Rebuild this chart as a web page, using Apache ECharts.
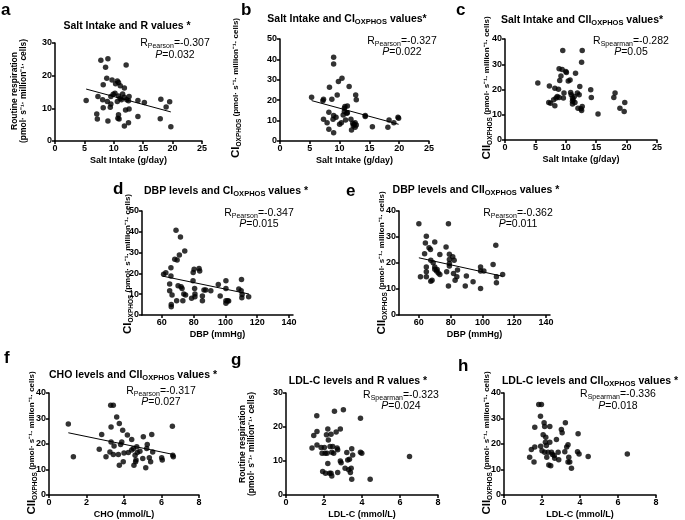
<!DOCTYPE html>
<html><head><meta charset="utf-8">
<script src="https://cdn.jsdelivr.net/npm/echarts@6/dist/echarts.min.js"></script>
<style>html,body{margin:0;padding:0;background:#fff}#c{width:685px;height:520px}</style>
</head><body><div id="c"></div>
<script>
// ---- data ----
// a: Salt intake vs routine respiration
const aSalt = [5.3,7.8,9.0,8.6,8.8,8.2,7.3,7.1,7.2,8.1,8.2,8.9,9.0,9.4,9.7,9.5,9.5,9.9,10.2,10.3,10.6,10.8,10.8,10.6,10.7,10.8,10.9,11.1,11.1,11.3,11.5,11.8,11.8,11.8,12.1,12.0,12.2,12.5,12.6,12.6,12.5,14.1,14.1,15.2,18.0,17.9,18.9,19.5,19.7];
const aR    = [12.4,24.7,25.2,22.6,19.2,17.2,13.6,8.3,6.7,12.6,10.2,12.1,6.1,10.3,18.7,13.6,11.3,14.3,14.6,17.5,18.4,17.9,13.8,12.1,7.0,8.0,6.7,16.9,13.0,12.6,14.4,16.2,4.6,13.4,23.3,9.5,12.6,5.6,9.8,13.6,12.3,12.4,7.5,11.8,12.8,6.8,10.4,12.0,4.4];
const aFitX = [5.3,19.7], aFitY = [15.9,8.9];
// b: Salt intake vs CI OXPHOS
const bSalt = [5.3,7.2,7.3,7.3,7.9,8.3,8.2,8.2,8.7,8.9,9.0,9.0,9.0,9.0,9.4,9.6,9.8,10.0,10.3,10.4,10.6,10.8,10.8,10.9,11.0,11.2,11.3,11.3,11.6,11.9,12.0,12.2,12.3,12.4,12.6,12.7,12.8,12.8,12.6,14.3,14.3,15.5,18.1,18.3,19.1,19.8,19.9];
const bCI   = [21.5,19.7,20.5,10.7,9.0,26.4,14.1,5.7,20.5,10.7,12.5,41.1,37.7,4.1,11.6,22.6,29.2,8.2,9.0,30.8,12.8,16.1,14.4,16.9,10.3,13.6,13.9,17.2,26.7,10.7,5.4,8.7,7.5,8.2,6.7,22.6,20.2,7.9,9.0,12.5,12.0,7.0,6.7,10.3,9.0,11.6,11.1];
const bFitX = [5.3,19.9], bFitY = [19.8,8.2];
// c: Salt intake vs CII OXPHOS
const cSalt = [5.4,7.2,7.3,7.5,8.0,8.2,8.4,8.2,8.6,8.8,8.9,9.0,8.9,9.2,9.4,9.5,9.6,9.7,10.0,10.1,10.4,10.7,10.8,10.9,11.1,11.1,11.1,11.2,11.4,11.5,11.6,11.9,12.0,12.2,12.3,12.5,12.6,12.6,12.7,12.7,14.1,14.2,15.3,18.1,17.9,18.9,19.6,19.7];
const cCII  = [22.6,14.9,21.4,14.6,15.9,20.5,16.6,13.6,17.2,20.1,16.8,23.6,28.2,25.3,27.9,35.4,16.6,18.6,27.1,26.7,23.4,23.8,18.8,17.9,16.6,15.3,14.3,15.9,17.2,14.9,26.4,18.6,12.6,17.9,21.2,12.4,11.7,30.8,35.4,13.3,19.9,16.8,10.3,18.6,16.8,12.6,11.3,14.9];
// d: DBP vs CI OXPHOS
const dDBP = [61.1,62.5,64.9,64.9,65.7,65.7,65.9,65.9,66.4,68.1,68.9,69.6,69.3,70.2,71.0,71.7,72.1,72.7,73.2,73.8,74.4,74.9,78.7,79.6,79.7,80.3,80.6,80.8,80.8,83.4,83.8,85.5,85.5,86.5,87.6,90.8,95.5,96.7,100.3,100.3,100.3,100.3,101.4,102.0,108.4,110.1,109.9,110.5,110.3,114.6];
const dCI  = [19.6,20.3,14.9,11.7,22.7,18.7,5.1,4.0,9.6,26.8,40.7,26.4,6.9,14.1,28.8,37.5,13.6,12.8,6.9,10.1,30.8,9.6,8.0,16.5,20.4,22.0,12.8,10.1,8.8,22.4,21.2,6.9,9.1,12.0,12.0,11.7,14.7,9.1,16.5,12.8,6.9,5.6,6.9,6.7,12.5,17.1,11.7,9.9,8.3,8.8];
const dFitX = [60.4,114.8], dFitY = [18.7,10.1];
// e: DBP vs CII OXPHOS
const eDBP = [60.0,61.0,63.6,64.1,64.7,64.7,64.7,64.7,66.4,67.3,67.5,67.5,68.3,69.0,70.0,70.0,70.0,71.1,71.5,72.2,73.2,73.2,77.1,77.5,78.6,78.6,79.2,79.2,79.2,79.2,81.3,82.2,81.8,82.8,83.9,84.3,89.2,89.9,94.1,98.8,98.8,98.8,100.9,106.7,108.4,108.8,108.8,112.7];
const eCII = [35.1,14.7,23.6,27.7,30.3,18.5,16.6,14.7,25.9,25.2,21.1,13.0,13.4,20.1,28.1,18.5,17.6,16.9,17.5,16.2,15.6,23.3,26.2,16.6,35.1,11.2,23.4,21.3,19.8,18.8,22.4,21.1,16.0,13.4,14.7,17.3,11.2,15.0,12.8,18.5,16.9,10.2,16.9,19.4,26.8,14.7,12.4,15.6];
const eFitX = [60.0,112.7], eFitY = [22.0,14.9];
// f: CHO vs CII OXPHOS
const fCHO = [1.03,1.30,2.68,2.81,3.04,3.25,3.29,3.43,3.31,3.31,3.43,3.47,3.61,3.70,3.75,3.75,3.82,3.88,3.93,3.96,4.00,4.18,4.23,4.41,4.41,4.50,4.53,4.59,4.62,4.64,4.68,4.71,4.85,5.00,5.03,5.16,5.21,5.24,5.35,5.42,5.48,5.53,6.01,6.04,6.58,6.60,6.63];
const fCII = [27.8,15.0,17.9,23.7,15.0,16.9,35.2,35.2,26.7,20.8,15.9,19.2,30.6,15.9,28.0,11.7,19.8,20.8,25.4,13.0,16.5,23.5,16.7,21.8,17.6,18.2,11.7,15.6,13.0,13.7,18.9,16.7,17.2,14.3,22.8,10.7,18.2,19.8,14.6,13.0,23.7,16.9,14.6,13.7,27.0,15.6,15.0];
const fFitX = [1.03,6.63], fFitY = [24.4,15.9];
// g: LDL-C vs routine respiration
const gLDL = [1.37,1.46,1.62,1.63,1.63,1.85,1.90,1.93,2.02,2.06,2.08,2.13,2.16,2.20,2.20,2.23,2.29,2.32,2.37,2.37,2.41,2.41,2.46,2.51,2.55,2.64,2.69,2.72,2.72,2.86,2.86,2.90,3.02,3.11,3.20,3.25,3.30,3.34,3.39,3.43,3.46,3.46,3.51,3.92,3.92,3.99,4.43,6.50];
const gR   = [13.8,17.5,23.3,18.7,14.7,14.0,12.3,6.9,14.0,12.3,6.4,17.7,12.3,19.4,9.3,16.2,6.4,14.3,6.4,17.9,12.6,5.6,14.3,12.3,24.6,18.5,13.8,13.3,6.6,19.4,10.0,9.5,25.1,7.9,12.5,10.3,7.4,10.5,6.6,7.9,13.6,4.6,11.8,22.6,12.6,12.3,4.6,11.3];
// h: LDL-C vs CII OXPHOS
const hLDL = [1.35,1.44,1.58,1.62,1.62,1.83,1.97,1.92,1.93,2.00,2.06,2.11,2.14,2.14,2.18,2.20,2.23,2.25,2.32,2.36,2.41,2.41,2.46,2.50,2.55,2.64,2.67,2.76,2.85,2.88,3.02,3.06,3.20,3.23,3.30,3.37,3.37,3.41,3.46,3.55,3.87,3.90,3.95,4.43,6.49];
const hCII = [14.8,17.8,12.9,26.6,18.8,35.5,35.5,30.9,19.1,17.4,23.6,28.3,26.9,16.8,20.7,22.6,19.4,14.8,16.8,11.8,26.9,20.7,11.5,16.8,15.9,15.5,14.4,21.8,16.8,13.8,25.7,24.4,17.0,28.3,18.8,19.7,12.9,14.8,12.9,10.5,17.0,24.0,16.1,15.1,16.1];

// ---- layout ----
const FF = '"Liberation Sans", Arial, sans-serif';
const grids = [
  {left:55, top:43, width:147, height:98},
  {left:280, top:39, width:149, height:102},
  {left:505, top:39, width:152, height:101},
  {left:142, top:211, width:151, height:104},
  {left:399, top:211, width:151, height:104},
  {left:49, top:393, width:150, height:102},
  {left:286, top:393, width:152, height:102},
  {left:504, top:393, width:152, height:102}
];
const xCfg = [
  {min:0,max:25,interval:5,name:'Salt Intake (g/day)'},
  {min:0,max:25,interval:5,name:'Salt Intake (g/day)'},
  {min:0,max:25,interval:5,name:'Salt Intake (g/day)'},
  {min:47.5,max:142.5,custom:[60,80,100,120,140],name:'DBP (mmHg)'},
  {min:47.5,max:142.5,custom:[60,80,100,120,140],name:'DBP (mmHg)'},
  {min:0,max:8,interval:2,name:'CHO (mmol/L)'},
  {min:0,max:8,interval:2,name:'LDL-C (mmol/L)'},
  {min:0,max:8,interval:2,name:'LDL-C (mmol/L)'}
];
const yMax = [30,50,40,50,40,40,30,40];
const axisCommon = {
  axisLine:{show:true,onZero:false,lineStyle:{color:'#000',width:1.5}},
  axisTick:{show:true,length:3,lineStyle:{color:'#000',width:1.5}},
  splitLine:{show:false},
  axisLabel:{color:'#000',fontSize:9,fontWeight:'bold',fontFamily:FF,margin:3}
};
const xAxis = xCfg.map((c,i)=>{
  const ax = Object.assign({}, JSON.parse(JSON.stringify(axisCommon)), {
    type:'value', gridIndex:i, min:c.min, max:c.max,
    name:c.name, nameLocation:'middle', nameGap:15,
    nameTextStyle:{color:'#000',fontSize:9,fontWeight:'bold',fontFamily:FF}
  });
  if (c.custom) {
    ax.axisTick.customValues = c.custom;
    ax.axisLabel.customValues = c.custom;
  } else ax.interval = c.interval;
  return ax;
});
const yAxis = yMax.map((m,i)=>Object.assign({}, JSON.parse(JSON.stringify(axisCommon)), {
  type:'value', gridIndex:i, min:0, max:m, interval:10
}));

const pts = [[aSalt,aR],[bSalt,bCI],[cSalt,cCII],[dDBP,dCI],[eDBP,eCII],[fCHO,fCII],[gLDL,gR],[hLDL,hCII]];
const fits = {0:[aFitX,aFitY],1:[bFitX,bFitY],3:[dFitX,dFitY],4:[eFitX,eFitY],5:[fFitX,fFitY]};
const series = [];
pts.forEach((p,i)=>{
  series.push({type:'scatter',xAxisIndex:i,yAxisIndex:i,symbolSize:5.5,
    itemStyle:{color:'#000'},data:p[0].map((x,k)=>[x,p[1][k]]),silent:true});
  if (fits[i]) series.push({type:'line',xAxisIndex:i,yAxisIndex:i,symbol:'none',
    lineStyle:{color:'#000',width:1},data:fits[i][0].map((x,k)=>[x,fits[i][1][k]]),silent:true});
});

// ---- texts ----
const letters = [['a',1,2],['b',241,2],['c',456,2],['d',113,181],['e',346,183],['f',4,350],['g',231,352],['h',458,358]];
const titleRich = {
  b:{fontSize:10.5,fontWeight:'bold',fontFamily:FF,fill:'#000',lineHeight:14,verticalAlign:'middle'},
  s:{fontSize:7.5,fontWeight:'bold',fontFamily:FF,fill:'#000',lineHeight:7,verticalAlign:'bottom'}
};
const titles = [
  ['{b|Salt Intake and R values *}',127,26],
  ['{b|Salt Intake and CI}{s|OXPHOS}{b| values*}',347,19],
  ['{b|Salt Intake and CII}{s|OXPHOS}{b| values*}',582,20],
  ['{b|DBP levels and CI}{s|OXPHOS}{b| values *}',226,191],
  ['{b|DBP levels and CII}{s|OXPHOS}{b| values *}',476,190],
  ['{b|CHO levels and CII}{s|OXPHOS}{b| values *}',133,375],
  ['{b|LDL-C levels and R values *}',358,381],
  ['{b|LDL-C levels and CII}{s|OXPHOS}{b| values *}',590,381]
];
const statRich = {
  r:{fontSize:10.5,fontFamily:FF,fill:'#000',lineHeight:14,verticalAlign:'middle'},
  s:{fontSize:7,fontFamily:FF,fill:'#000',lineHeight:7,verticalAlign:'bottom'},
  i:{fontSize:10.5,fontFamily:FF,fontStyle:'italic',fill:'#000',lineHeight:14,verticalAlign:'middle'}
};
const stats = [
  ['Pearson','-0.307','0.032',175,43,55],
  ['Pearson','-0.327','0.022',402,41,52],
  ['Spearman','-0.282','0.05',631,41,52],
  ['Pearson','-0.347','0.015',259,213,224],
  ['Pearson','-0.362','0.011',518,213,224],
  ['Pearson','-0.317','0.027',161,391,402],
  ['Spearman','-0.323','0.024',401,395,406],
  ['Spearman','-0.336','0.018',618,394,406]
];
const yRich = {
  b:{fontSize:8.5,fontWeight:'bold',fontFamily:FF,fill:'#000',lineHeight:9},
  c:{fontSize:11.5,fontWeight:'bold',fontFamily:FF,fill:'#000',lineHeight:14,verticalAlign:'middle'},
  s:{fontSize:6.5,fontWeight:'bold',fontFamily:FF,fill:'#000',lineHeight:6,verticalAlign:'bottom'},
  u:{fontSize:8,fontWeight:'bold',fontFamily:FF,fill:'#000',lineHeight:14,verticalAlign:'middle'}
};
const unitTxt = ' (pmol· s⁻¹· million⁻¹· cells)';
const yNames = [
  ['{b|Routine respiration}\n{b|(pmol· s⁻¹· million⁻¹· cells)}',19,91],
  ['{c|CI}{s|OXPHOS}{u|'+unitTxt+'}',236,88],
  ['{c|CII}{s|OXPHOS}{u|'+unitTxt+'}',487,88],
  ['{c|CI}{s|OXPHOS}{u|'+unitTxt+'}',128,264],
  ['{c|CII}{s|OXPHOS}{u|'+unitTxt+'}',382,263],
  ['{c|CII}{s|OXPHOS}{u|'+unitTxt+'}',32,443],
  ['{b|Routine respiration}\n{b|(pmol· s⁻¹· million⁻¹· cells)}',247,444],
  ['{c|CII}{s|OXPHOS}{u|'+unitTxt+'}',487,443]
];
const graphic = [];
letters.forEach(l=>graphic.push({type:'text',x:l[1],y:l[2],silent:true,
  style:{text:l[0],fontSize:17,fontWeight:'bold',fontFamily:FF,fill:'#000',align:'left',verticalAlign:'top'}}));
titles.forEach(t=>graphic.push({type:'text',x:t[1],y:t[2],silent:true,
  style:{text:t[0],rich:titleRich,align:'center',verticalAlign:'middle'}}));
stats.forEach(s=>{
  graphic.push({type:'text',x:s[3],y:s[4],silent:true,
    style:{text:'{r|R}{s|'+s[0]+'}{r|='+s[1]+'}',rich:statRich,align:'center',verticalAlign:'middle'}});
  graphic.push({type:'text',x:s[3],y:s[5],silent:true,
    style:{text:'{i|P}{r|='+s[2]+'}',rich:statRich,align:'center',verticalAlign:'middle'}});
});
yNames.forEach(n=>graphic.push({type:'text',x:n[1],y:n[2],rotation:Math.PI/2,silent:true,
  style:{text:n[0],rich:yRich,align:'center',verticalAlign:'middle'}}));

const chart = echarts.init(document.getElementById('c'),null,{renderer:'canvas'});
chart.setOption({
  animation:false, backgroundColor:'#fff',
  grid:grids, xAxis:xAxis, yAxis:yAxis, series:series, graphic:graphic
});
</script></body></html>
